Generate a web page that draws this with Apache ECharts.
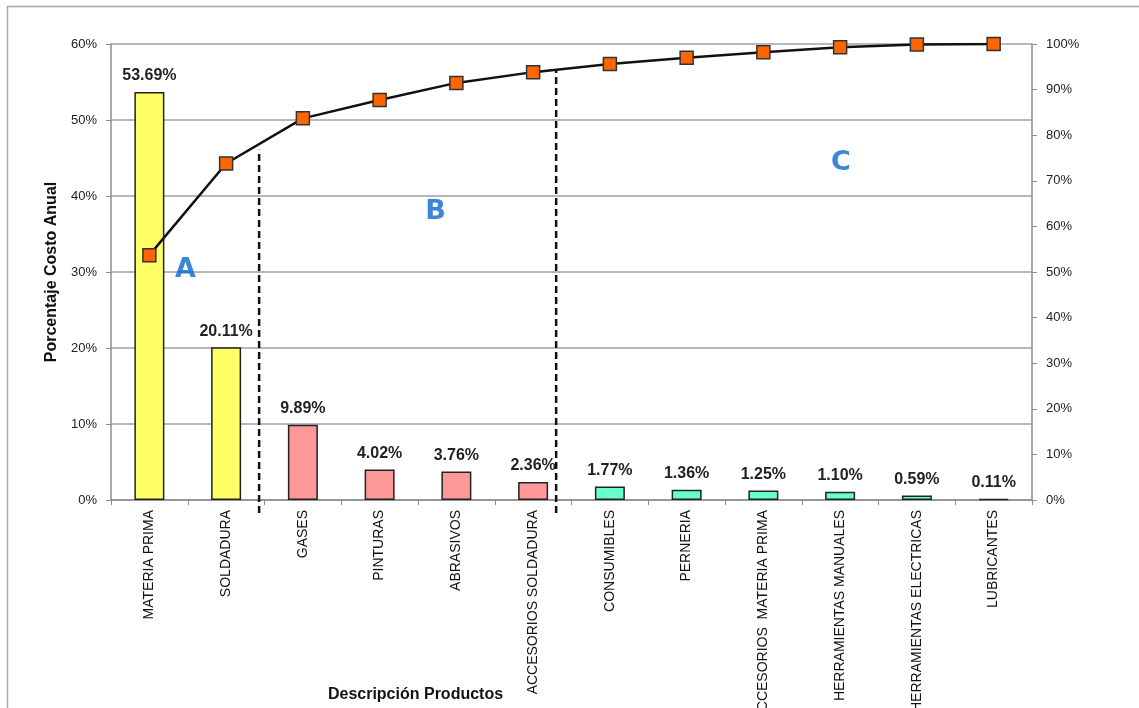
<!DOCTYPE html>
<html>
<head>
<meta charset="utf-8">
<script src="https://cdn.jsdelivr.net/npm/echarts@6/dist/echarts.min.js"></script>
<style>
html, body { margin: 0; background: #fff; }
#chart { width: 1139px; height: 708px; }
</style>
</head>
<body>
<div id="chart"></div>
<script>
// datos del pareto
var categorias = ['MATERIA PRIMA', 'SOLDADURA', 'GASES', 'PINTURAS', 'ABRASIVOS', 'ACCESORIOS SOLDADURA',
    'CONSUMIBLES', 'PERNERIA', 'ACCESORIOS  MATERIA PRIMA', 'HERRAMIENTAS MANUALES', 'HERRAMIENTAS ELECTRICAS', 'LUBRICANTES'];
var porcentaje = [53.69, 20.11, 9.89, 4.02, 3.76, 2.36, 1.77, 1.36, 1.25, 1.10, 0.59, 0.11];
var acumulado = [53.69, 73.80, 83.69, 87.71, 91.47, 93.83, 95.60, 96.96, 98.21, 99.31, 99.90, 100];
var clase = ['A', 'A', 'B', 'B', 'B', 'B', 'C', 'C', 'C', 'C', 'C', 'C'];

// ejes
var ejeIzqMax = 60, ejeIzqPaso = 10;
var ejeDerMax = 100, ejeDerPaso = 10;

// separadores de zonas (posicion en indice de categoria, porcentaje izq)
var corteAB = [[1.43, -1.7], [1.43, 46.1]];
var corteBC = [[5.30, -1.7], [5.30, 56.6]];
var zonas = [
    {name: 'A', value: [0.47, 30.3]},
    {name: 'B', value: [3.73, 37.9]},
    {name: 'C', value: [9.01, 44.3]}
];

var colores = {A: '#FFFF66', B: '#FF9999', C: '#66FFCC'};
var fuente = 'Liberation Sans';

var option = {
    animation: false,
    tooltip: {show: false},
    textStyle: {fontFamily: fuente},
    graphic: [{
        type: 'rect', silent: true, z: -10,
        shape: {x: 7.5, y: 6.5, width: 1300, height: 900},
        style: {fill: 'none', stroke: '#a6a6a6', lineWidth: 1.5}
    }],
    grid: {left: 111, right: 107, top: 44, bottom: 208, outerBoundsMode: 'none', containLabel: false},
    xAxis: [{
        type: 'category',
        data: categorias,
        name: 'Descripción Productos',
        nameLocation: 'middle',
        nameGap: 187,
        nameMoveOverlap: false,
        nameTextStyle: {fontSize: 16, fontWeight: 'bold', color: '#111', padding: [0, 312, 0, 0]},
        axisLine: {onZero: false, lineStyle: {color: '#8c8c8c', width: 1.5}},
        axisTick: {show: true, length: 5, lineStyle: {color: '#8c8c8c'}},
        axisLabel: {rotate: 90, fontSize: 14, color: '#111', margin: 10, interval: 0},
        axisPointer: {show: false}
    }, {
        type: 'value', min: -0.5, max: 11.5, show: false
    }],
    yAxis: [{
        type: 'value',
        min: 0, max: ejeIzqMax, interval: ejeIzqPaso,
        name: 'Porcentaje Costo Anual',
        nameLocation: 'middle',
        nameGap: 46,
        nameRotate: 90,
        nameTextStyle: {fontSize: 16, fontWeight: 'bold', color: '#111'},
        axisLine: {show: true, onZero: false, lineStyle: {color: '#8c8c8c', width: 1.5}},
        axisTick: {show: true, length: 5, lineStyle: {color: '#8c8c8c'}},
        axisLabel: {formatter: '{value}%', fontSize: 13, color: '#222', margin: 14},
        splitLine: {lineStyle: {color: '#a0a0a0', width: 1.5}}
    }, {
        type: 'value',
        min: 0, max: ejeDerMax, interval: ejeDerPaso,
        position: 'right',
        axisLine: {show: true, onZero: false, lineStyle: {color: '#8c8c8c', width: 1.5}},
        axisTick: {show: true, length: 5, lineStyle: {color: '#8c8c8c'}},
        axisLabel: {formatter: '{value}%', fontSize: 13, color: '#222', margin: 14},
        splitLine: {show: false}
    }],
    series: [{
        name: 'Porcentaje',
        type: 'bar',
        barWidth: 30,
        data: porcentaje.map(function (v, i) {
            return {value: v, itemStyle: {color: colores[clase[i]]}};
        }),
        itemStyle: {borderColor: '#222', borderWidth: 1.5},
        label: {
            show: true, position: 'top', distance: 8,
            fontSize: 16, fontWeight: 'bold', color: '#222',
            formatter: function (p) { return p.value.toFixed(2) + '%'; }
        }
    }, {
        name: 'Acumulado',
        type: 'line',
        yAxisIndex: 1,
        data: acumulado,
        symbol: 'rect',
        symbolSize: 13,
        lineStyle: {color: '#111', width: 2.5},
        itemStyle: {color: '#FF6600', borderColor: '#333', borderWidth: 1.5},
        z: 5
    }, {
        type: 'line', xAxisIndex: 1, yAxisIndex: 0,
        data: corteAB, symbol: 'none', clip: false,
        lineStyle: {color: '#111', width: 2.5, type: [7, 4]}
    }, {
        type: 'line', xAxisIndex: 1, yAxisIndex: 0,
        data: corteBC, symbol: 'none', clip: false,
        lineStyle: {color: '#111', width: 2.5, type: [7, 4]}
    }, {
        type: 'scatter', xAxisIndex: 1, yAxisIndex: 0,
        data: zonas, symbolSize: 0,
        label: {
            show: true, position: 'inside', formatter: '{b}',
            fontSize: 27, fontWeight: 900, color: '#0a68d0', fontFamily: 'DejaVu Sans'
        }
    }]
};

echarts.init(document.getElementById('chart')).setOption(option);
</script>
</body>
</html>
